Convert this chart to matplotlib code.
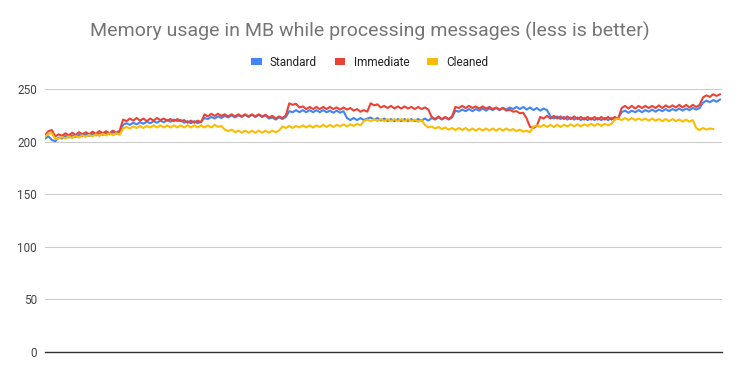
import matplotlib.pyplot as plt
from matplotlib.patches import Patch

plt.rcParams['font.family'] = ['Roboto', 'DejaVu Sans']

standard = [
    203, 205, 201.5, 200.5, 204, 203, 205.5, 204, 206, 204.5,
    206.5, 205, 207, 205.5, 207.5, 206, 208, 206.5, 208.5, 207,
    209, 207.5, 209,
    216, 217.5, 216, 218, 216.5, 218.5, 217, 219, 217.5, 219.5,
    218, 220, 218.5, 220.5, 219, 221, 219.5, 220.5, 218, 219.5,
    217.5, 219.5, 217.5, 219,
    222.5, 221.5, 223.5, 222, 224, 222.5, 224.5, 223, 225, 223,
    225, 223.5, 225.5, 223.5, 225.5, 223.5, 225.5, 223.5, 225, 222,
    223, 221, 223, 221.5, 223.5,
    229, 228, 230, 228, 230, 228, 230, 228, 230, 228,
    230, 228, 229.5, 227.5, 229.5, 227.5, 229,
    222.5, 220.5, 222.5, 220.5, 222.5, 220.5, 222,
    223, 221, 222.5, 220, 222, 219.5, 221.5, 219.5, 221.5, 219.5,
    221.5, 219.5, 221.5, 219.5, 221.5, 220, 222, 220, 222.5, 221,
    223, 221, 223, 221, 223,
    229.5, 228.5, 230.5, 229, 231, 229, 231, 229.5, 231.5, 229.5,
    231.5, 230, 232, 230, 232, 230.5, 232.5, 231, 233, 231,
    233, 230.5, 232.5, 230, 232, 229.5, 231.5, 230,
    224, 222, 224, 221.5, 223.5, 221, 223, 221, 223, 220.5,
    222.5, 220.5, 222.5, 220.5, 222.5, 220.5, 222.5, 220.5, 222.5, 221,
    222.5,
    228, 229.5, 227.5, 229.5, 228, 230, 228, 230, 228.5, 230.5,
    228.5, 230.5, 229, 231, 229, 231, 229.5, 231.5, 229.5, 231.5,
    230, 232, 230.5, 232,
    237, 239, 237.5, 239.5, 238, 240,
]

immediate = [
    206, 210, 211, 205, 207, 205.5, 208, 206, 208.5, 206.5,
    209, 207, 209, 207, 209.5, 207.5, 210, 208, 210, 208,
    210.5, 208.5, 210.5,
    221, 219.5, 222, 220, 222.5, 220, 222, 219.5, 222, 220,
    222.5, 220.5, 222, 220, 221.5, 219.5, 221.5, 219.5, 220.5, 218,
    220, 218, 220, 218.5,
    226, 224, 226.5, 224.5, 226.5, 224.5, 226, 224, 226, 224,
    226, 224, 226, 224, 226, 224, 226, 224, 225.5, 223,
    224.5, 222, 224, 222.5, 225,
    236.5, 235, 236, 232.5, 233.5, 231, 233, 231, 233, 231,
    233, 231, 233, 231, 232.5, 230.5, 232.5, 230.5, 232, 229.5,
    231, 228.5, 230, 228.5,
    236.5, 234.5, 235.5, 232.5, 234, 232, 234, 231.5, 233.5, 231.5,
    233.5, 231.5, 233, 231, 233, 231, 232.5, 230.5,
    223.5, 221.5, 224, 221.5, 223.5, 221.5, 224,
    233, 232, 234, 232, 234, 232, 233.5, 231.5, 233.5, 231.5,
    233, 231, 232.5, 230.5, 232, 229.5, 230.5, 228.5, 229, 227,
    227.5,
    222, 214, 213, 215, 223.5,
    222, 224.5, 222, 224.5, 222, 224, 221.5, 224, 221.5, 224,
    221.5, 223.5, 221, 223.5, 221, 223.5, 221, 223.5, 221, 223.5,
    221, 223.5, 221.5,
    232, 234, 231.5, 234, 231.5, 234, 232, 234, 232, 234,
    232, 234.5, 232, 234.5, 232.5, 234.5, 232.5, 235, 232.5, 235,
    232.5, 235, 233, 235,
    242, 244, 242.5, 245, 243.5, 245,
]

cleaned = [
    205, 207.5, 208, 202.5, 203, 204.5, 203, 205, 203.5, 205.5,
    204, 206, 204.5, 206.5, 205, 207, 205.5, 207.5, 206, 208,
    206, 208, 206.5,
    212.5, 214, 212.5, 214.5, 213, 215, 213, 215, 213.5, 215.5,
    213.5, 215.5, 213.5, 215.5, 213.5, 215.5, 213.5, 215.5, 213.5, 215.5,
    213.5, 215.5, 213.5, 215.5, 213.5, 215.5, 213.5, 216, 214, 215,
    211.5, 210, 211.5, 209, 210.5, 208.5, 210.5, 208.5, 210.5, 208.5,
    210.5, 208.5, 210.5, 208.5, 210.5, 209, 210.5,
    214.5, 213, 215, 213, 215, 213.5, 215.5, 213.5, 215.5, 213.5,
    215.5, 214, 216, 214, 216, 214, 216, 214.5, 216.5, 214.5,
    216.5, 215, 217, 215.5,
    219.5, 221, 219.5, 221.5, 219.5, 221.5, 219.5, 221.5, 219.5, 221.5,
    219.5, 221.5, 219.5, 221.5, 219.5, 221, 219, 220.5,
    216, 213.5, 214.5, 212.5, 214, 212, 213.5, 211.5, 213, 211,
    213, 211, 213, 210.5, 212.5, 210.5, 212.5, 210.5, 212.5, 210.5,
    212.5, 210.5, 212.5, 210.5, 212.5, 210.5, 212, 210, 211.5,
    209.5, 210.5, 209,
    214.5, 215.5, 214, 216, 214, 216, 214, 216, 214, 216,
    214.5, 216.5, 214.5, 216.5, 214.5, 216.5, 215, 217, 215, 217,
    215, 217, 215.5, 217,
    221, 222, 220.5, 222.5, 220.5, 222.5, 220.5, 222, 220.5, 222,
    220, 222, 220, 221.5, 219.5, 221.5, 219.5, 221.5, 219.5, 221,
    219, 221, 219, 220.5,
    213, 211, 213, 211.5, 212.5, 212,
]

series_names = ['Standard', 'Immediate', 'Cleaned']
series_colors = ['#4285f4', '#ea4335', '#fbbc04']

fig = plt.figure(figsize=(7.39, 3.79), dpi=100)
ax = fig.add_axes([0.061, 0.071, 0.916, 0.694])

for vals, name, col in zip([standard, immediate, cleaned], series_names, series_colors):
    ax.plot(range(len(vals)), vals, color=col, linewidth=1.5, label=name,
            solid_joinstyle='round')

ax.set_ylim(0, 250)
ax.set_xlim(0, 199.6)
ax.set_yticks(range(0, 251, 50))
ax.set_xticks([])
ax.tick_params(axis='y', length=0, pad=6, labelsize=8.5, labelcolor='#444444')
ax.grid(axis='y', color='#cccccc', linewidth=0.8)
ax.set_axisbelow(True)
for s in ['top', 'right', 'left']:
    ax.spines[s].set_visible(False)
ax.spines['bottom'].set_color('#333333')
ax.spines['bottom'].set_linewidth(1)

fig.text(0.5, 0.918, 'Memory usage in MB while processing messages (less is better)',
         ha='center', va='center', fontsize=14, color='#757575')

handles = [Patch(facecolor=c, edgecolor='none') for c in series_colors]
fig.legend(handles, series_names, loc='center', bbox_to_anchor=(0.5, 0.836),
           ncol=3, frameon=False, fontsize=8.5, handlelength=0.9, handleheight=0.45,
           handletextpad=0.7, columnspacing=1.5, labelcolor='#222222')

plt.savefig('out.png', dpi=100)
